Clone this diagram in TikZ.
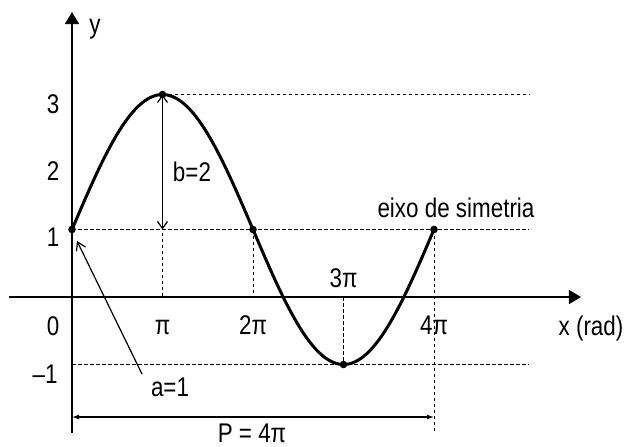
\documentclass[tikz,border=0pt]{standalone}
\usepackage{fontspec}
\setmainfont{Liberation Sans}[FakeStretch=0.83]
\usetikzlibrary{arrows.meta, calc}
\tikzset{
  axisline/.style={line width=0.85pt, -{Triangle[length=6pt,width=7pt]}},
  guideline/.style={line width=0.5pt, dash pattern=on 1.8pt off 1.2pt},
  curveline/.style={line width=1.5pt, line join=round},
  dimarrow/.style={line width=0.6pt, {Straight Barb[length=3.5pt,width=5pt]}-{Straight Barb[length=3.5pt,width=5pt]}},
  notearrow/.style={line width=0.6pt, -{Straight Barb[length=4pt,width=5pt]}},
  periodarrow/.style={line width=0.6pt, {Latex[length=3.5pt,width=2.5pt]}-{Latex[length=3.5pt,width=2.5pt]}},
  lbl/.style={inner sep=0pt, anchor=base, font=\fontsize{13.5}{16}\selectfont},
  dot/.style={circle, fill=black, inner sep=0pt, minimum size=3.8pt}
}

\begin{document}
\begin{tikzpicture}[x=45.25pt, y=33.75pt]
  \useasboundingbox (-0.7956,-2.2074) rectangle (6.1105,4.4);

  % points on the curve
  \coordinate (p0) at (0,1);
  \coordinate (p1) at (1,3);
  \coordinate (p2) at (2,1);
  \coordinate (p3) at (3,-1);
  \coordinate (p4) at (4,1);
  \coordinate (top-end) at (5.05,3);
  \coordinate (mid-end) at (5.05,1);
  \coordinate (low-start) at (0,-1);
  \coordinate (low-end) at (5.05,-1);
  \coordinate (pi-foot) at (1,0);
  \coordinate (twopi-foot) at (2,0);
  \coordinate (threepi-foot) at (3,0);
  \coordinate (fourpi-foot) at (4,-2.015);
  \coordinate (yaxis-start) at (0,-2.015);
  \coordinate (yaxis-end) at (0,4.222);
  \coordinate (xaxis-start) at (-0.696,0);
  \coordinate (xaxis-end) at (5.624,0);
  \coordinate (a-tail) at (0.7735,-1.141);
  \coordinate (a-head) at (0.055,0.83);
  \coordinate (per-start) at (0,-1.778);
  \coordinate (per-end) at (4,-1.778);

  % guide lines
  \draw[guideline] (p1) -- (top-end);
  \draw[guideline] (p0) -- (mid-end);
  \draw[guideline] (low-start) -- (low-end);
  \draw[guideline] (p1) -- (pi-foot);
  \draw[guideline] (p2) -- (twopi-foot);
  \draw[guideline] (threepi-foot) -- (p3);
  \draw[guideline] (p4) -- (fourpi-foot);

  % axes
  \draw[axisline] (yaxis-start) -- (yaxis-end);
  \draw[axisline] (xaxis-start) -- (xaxis-end);

  \draw[curveline] plot[domain=0:4, samples=120, smooth] (\x, {1+2*sin(90*\x)});

  \foreach \p in {p0,p1,p2,p3,p4}
    \node[dot] at (\p) {};

  \draw[dimarrow] (p1) -- (1,1);
  \draw[notearrow] (a-tail) -- (a-head);
  \draw[periodarrow] (per-start) -- (per-end);

  % labels
  \node[lbl] (ylab) at (0.254,3.911) {y};
  \node[lbl] (tick3) at (-0.21,2.726) {3};
  \node[lbl] (tick2) at (-0.21,1.733) {2};
  \node[lbl] (tick1) at (-0.21,0.741) {1};
  \node[lbl] (tick0) at (-0.21,-0.563) {0};
  \node[lbl] (tickm1) at (-0.298,-1.274) {–1};
  \node[lbl] (tpi) at (1,-0.548) {π};
  \node[lbl] (t2pi) at (2,-0.548) {2π};
  \node[lbl] (t3pi) at (3,0.148) {3π};
  \node[lbl] (t4pi) at (4,-0.548) {4π};
  \node[lbl] (xlab) at (5.735,-0.563) {x (rad)};
  \node[lbl] (sym) at (4.243,1.185) {eixo de simetria};
  \node[lbl] (blab) at (1.326,1.704) {b=2};
  \node[lbl] (alab) at (1.083,-1.481) {a=1};
  \node[lbl] (plab) at (1.989,-2.15) {P = 4π};
\end{tikzpicture}
\end{document}
